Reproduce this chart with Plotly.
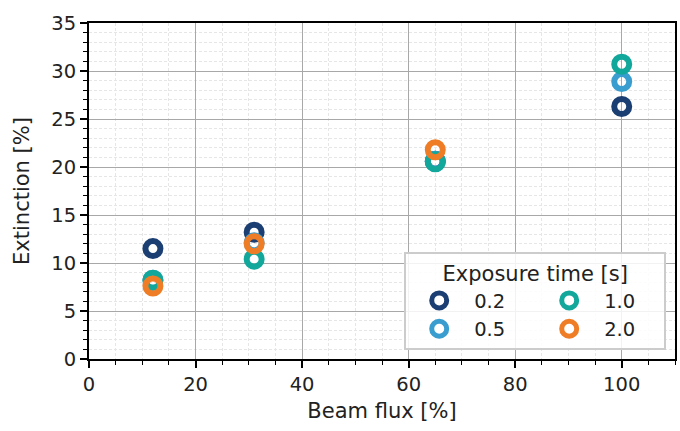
import plotly.graph_objects as go

beam_flux = [12, 31, 65, 100]
exposure_labels = ["0.2", "0.5", "1.0", "2.0"]
ext_02 = [11.5, 13.2, 20.6, 26.3]
ext_05 = [8.2, 12.1, 20.6, 28.9]
ext_10 = [8.2, 10.4, 20.55, 30.7]
ext_20 = [7.6, 12.0, 21.8, None]

series = [ext_02, ext_05, ext_10, ext_20]
colors = ["#1b3f72", "#3a9dcf", "#12a79b", "#ee7d26"]
groups = ["a", "a", "b", "b"]

fig = go.Figure()
for lab, vals, col, grp in zip(exposure_labels, series, colors, groups):
    fig.add_trace(go.Scatter(
        x=beam_flux, y=vals, mode="markers", name=lab, legendgroup=grp,
        marker=dict(symbol="circle-open", size=15, color=col, line=dict(width=6, color=col)),
    ))

tick_font = dict(family="DejaVu Sans", size=19.5, color="#222222")
title_font = dict(family="DejaVu Sans", size=21, color="#222222")
legend_font = dict(family="DejaVu Sans", size=19.5, color="#222222")
legend_title_font = dict(family="DejaVu Sans", size=21, color="#222222")

axis_common = dict(
    showline=True, linecolor="black", linewidth=2, mirror=True,
    ticks="outside", ticklen=7, tickwidth=1.6, tickcolor="black",
    showgrid=True, gridcolor="#a8a8a8", gridwidth=1,
    zeroline=False, tickfont=tick_font,
)
minor_common = dict(ticks="outside", ticklen=4, tickcolor="black", tickwidth=1.2,
                    showgrid=True, gridcolor="#e6e6e6", griddash="3px,2px", gridwidth=0.8)
fig.update_xaxes(
    range=[0, 110], dtick=20, tick0=0,
    title=dict(text="Beam flux [%]", font=title_font, standoff=8),
    minor=dict(dtick=5, **minor_common),
    **axis_common,
)
fig.update_yaxes(
    range=[0, 35], dtick=5, tick0=0,
    title=dict(text="Extinction [%]", font=title_font, standoff=16),
    minor=dict(dtick=1, **minor_common),
    **axis_common,
)
fig.update_layout(
    width=680, height=431,
    margin=dict(l=89, r=3, t=23, b=72),
    plot_bgcolor="white", paper_bgcolor="white",
    font=tick_font,
    legend=dict(
        title=dict(text="Exposure time [s]", side="top center", font=legend_title_font),
        orientation="h", traceorder="grouped", entrywidth=55, itemwidth=60,
        x=0.985, xanchor="right", y=0.027, yanchor="bottom",
        bgcolor="rgba(255,255,255,0.85)", bordercolor="#cccccc", borderwidth=2,
        font=legend_font,
    ),
)
fig.write_html("out.html")
